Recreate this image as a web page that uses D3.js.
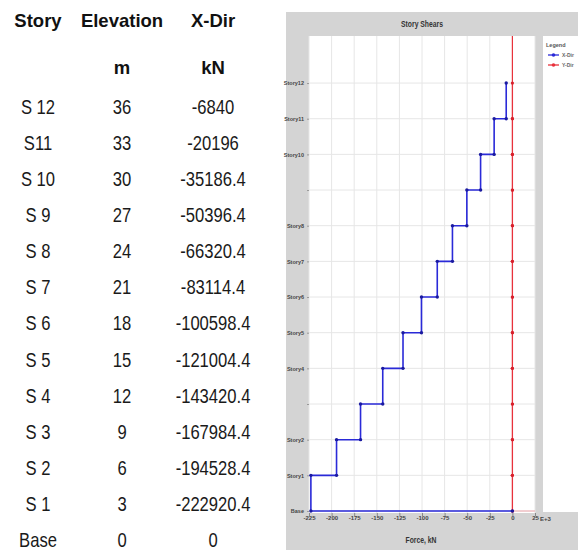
<!DOCTYPE html>
<html><head><meta charset="utf-8">
<script src="https://cdn.jsdelivr.net/npm/d3@7"></script>
<style>
html,body{margin:0;padding:0;background:#fff;}
svg{display:block;}
</style></head>
<body>
<svg id="c" width="578" height="552"></svg>
<script>
// ---- data ----
const tableStories = ["S 12","S11","S 10","S 9","S 8","S 7","S 6","S 5","S 4","S 3","S 2","S 1","Base"];
const elevations = [36,33,30,27,24,21,18,15,12,9,6,3,0];
const xDir = [-6840,-20196,-35186.4,-50396.4,-66320.4,-83114.4,-100598.4,-121004.4,-143420.4,-167984.4,-194528.4,-222920.4,0];
const yDir = [0,0,0,0,0,0,0,0,0,0,0,0,0];
const chartStoryLabels = ["Story12","Story11","Story10","Story9","Story8","Story7","Story6","Story5","Story4","Story3","Story2","Story1","Base"];
const hiddenChartLabels = ["Story9","Story3"];
const xTicks = [-225,-200,-175,-150,-125,-100,-75,-50,-25,0,25];
const headers = ["Story","Elevation","X-Dir"];
const units = ["","m","kN"];
const legendNames = ["X-Dir","Y-Dir"];

const svg = d3.select("#c");
const sans = "'Liberation Sans',Arial,sans-serif";

// ---- table ----
const colX = [38,122,213];
const rowY = d3.scaleLinear().domain([0,12]).range([106.5,540]);
const tg = svg.append("g");
headers.forEach((h,i)=>{
  tg.append("text").attr("x",colX[i]).attr("y",20).attr("text-anchor","middle")
    .attr("dominant-baseline","central").attr("font-family",sans)
    .attr("font-weight","bold").attr("font-size",18.5).attr("fill","#111").text(h);
  if(units[i]) tg.append("text").attr("x",colX[i]).attr("y",67).attr("text-anchor","middle")
    .attr("dominant-baseline","central").attr("font-family",sans)
    .attr("font-weight","bold").attr("font-size",18.5).attr("fill","#111").text(units[i]);
});
tableStories.forEach((s,i)=>{
  const cells=[s, String(elevations[i]), String(xDir[i])];
  cells.forEach((c,j)=>{
    tg.append("text").attr("transform",`translate(${colX[j]},${rowY(i)}) scale(0.81,1)`)
      .attr("text-anchor","middle")
      .attr("dominant-baseline","central").attr("font-family",sans)
      .attr("font-size",20.5).attr("fill","#1a1a1a").text(c);
  });
});

// ---- chart ----
const panel = {x:286,y:12,w:292,h:538};
const plot = {x0:309,x1:535,y0:36,y1:513};
svg.append("rect").attr("x",panel.x).attr("y",panel.y).attr("width",panel.w).attr("height",panel.h).attr("fill","#d4d4d4");
svg.append("rect").attr("x",plot.x0).attr("y",plot.y0).attr("width",plot.x1-plot.x0).attr("height",plot.y1-plot.y0).attr("fill","#fff");
// legend box
svg.append("rect").attr("x",543).attr("y",36).attr("width",35).attr("height",476).attr("fill","#fff");

svg.append("text").attr("transform","translate(422,24) scale(0.8,1)").attr("text-anchor","middle").attr("dominant-baseline","central")
  .attr("font-family",sans).attr("font-weight","bold").attr("font-size",8.5).attr("fill","#333").text("Story Shears");

const x = d3.scaleLinear().domain([-225,25]).range([309,535]);
const y = d3.scaleLinear().domain([0,40]).range([511,35.5]);

// grid
const grid = svg.append("g");
xTicks.forEach(t=>{
  grid.append("line").attr("x1",x(t)).attr("x2",x(t)).attr("y1",plot.y0).attr("y2",plot.y1)
    .attr("stroke","#e6e6e6").attr("stroke-width",1);
});
elevations.forEach(e=>{
  grid.append("line").attr("x1",plot.x0).attr("x2",plot.x1).attr("y1",y(e)).attr("y2",y(e))
    .attr("stroke","#e6e6e6").attr("stroke-width",1);
});

// axes
const xAxis = d3.axisBottom(x).tickValues(xTicks).tickSize(3).tickFormat(d=>String(d));
const xg = svg.append("g").attr("transform",`translate(0,${plot.y1})`).call(xAxis);
xg.select(".domain").remove();
xg.selectAll("line").attr("stroke","#888");
xg.selectAll("text").attr("font-family",sans).attr("font-size",6).attr("font-weight","bold").attr("fill","#444").attr("dy","0.2em");
svg.append("text").attr("x",x(25)+5).attr("y",519).attr("dominant-baseline","central").attr("font-family",sans)
  .attr("font-size",6).attr("font-weight","bold").attr("fill","#444").text("E+3");
svg.append("text").attr("transform","translate(421,540) scale(0.8,1)").attr("text-anchor","middle").attr("dominant-baseline","central")
  .attr("font-family",sans).attr("font-weight","bold").attr("font-size",8.5).attr("fill","#333").text("Force, kN");

const yAxis = d3.axisLeft(y).tickValues(elevations).tickSize(2)
  .tickFormat((d,i)=>{const l=chartStoryLabels[i]; return hiddenChartLabels.includes(l)?"":l;});
const yg = svg.append("g").attr("transform",`translate(${plot.x0},0)`).call(yAxis);
yg.select(".domain").remove();
yg.selectAll("line").attr("stroke","#999");
yg.selectAll("text").attr("font-family",sans).attr("font-size",5.5).attr("font-weight","bold").attr("fill","#444");

// step data
function stepPts(vals){
  const pts=[];
  for(let i=0;i<vals.length-1;i++){
    pts.push([vals[i]/1000, elevations[i]]);
    pts.push([vals[i]/1000, elevations[i+1]]);
  }
  pts.push([vals[vals.length-1]/1000, elevations[elevations.length-1]]);
  return pts;
}
const line = d3.line().x(d=>x(d[0])).y(d=>y(d[1]));

// faint red base extension
svg.append("line").attr("x1",x(0)).attr("x2",x(25)).attr("y1",y(0)).attr("y2",y(0)).attr("stroke","#f0a8ae").attr("stroke-width",1);
// red Y-Dir
svg.append("line").attr("x1",x(0)).attr("x2",x(0)).attr("y1",plot.y0).attr("y2",y(36)).attr("stroke","#e8323c").attr("stroke-width",1.2);
const rp = stepPts(yDir);
svg.append("path").attr("d",line(rp)).attr("fill","none").attr("stroke","#e8323c").attr("stroke-width",1.3);
svg.append("g").selectAll("circle").data(rp).join("circle").attr("cx",d=>x(d[0])).attr("cy",d=>y(d[1])).attr("r",1.6).attr("fill","#d8202c");

// blue X-Dir
const bp = stepPts(xDir);
svg.append("path").attr("d",line(bp)).attr("fill","none").attr("stroke","#2a2ad8").attr("stroke-width",1.6);
svg.append("g").selectAll("circle").data(bp).join("circle").attr("cx",d=>x(d[0])).attr("cy",d=>y(d[1])).attr("r",1.7).attr("fill","#1a1aa0");

// legend
svg.append("text").attr("x",546).attr("y",45).attr("dominant-baseline","central").attr("font-family",sans)
  .attr("font-size",5.5).attr("font-weight","bold").attr("fill","#555").text("Legend");
const legColors=["#2a2ad8","#e8323c"];
legendNames.forEach((n,i)=>{
  const ly = 55+i*10;
  svg.append("line").attr("x1",548).attr("x2",559).attr("y1",ly).attr("y2",ly).attr("stroke",legColors[i]).attr("stroke-width",1.3);
  svg.append("circle").attr("cx",553.5).attr("cy",ly).attr("r",1.8).attr("fill",legColors[i]);
  svg.append("text").attr("x",562).attr("y",ly).attr("dominant-baseline","central").attr("font-family",sans)
    .attr("font-size",5).attr("font-weight","bold").attr("fill","#666").text(n);
});
</script>
</body></html>
